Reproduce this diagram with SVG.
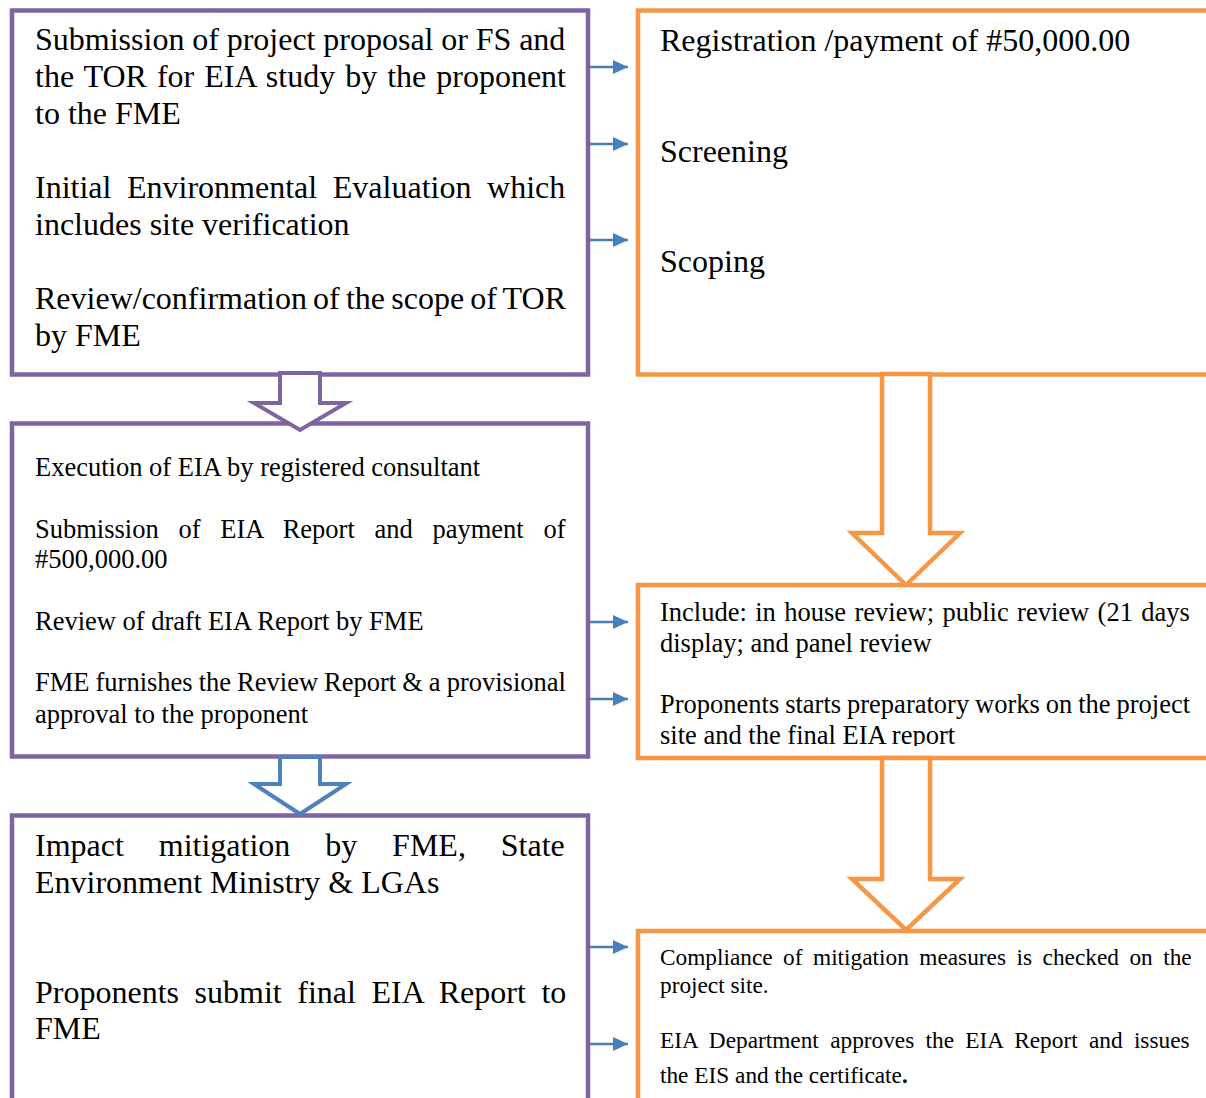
<svg xmlns="http://www.w3.org/2000/svg" width="1206" height="1098" viewBox="0 0 1206 1098">
<style>
.bp{fill:#fff;stroke:#8064A2;stroke-width:4.5}
.bo{fill:#fff;stroke:#F79646;stroke-width:4.5}
.ap{fill:#fff;stroke:#8064A2;stroke-width:4}
.ab{fill:#fff;stroke:#4F81BD;stroke-width:4}
.ao{fill:#fff;stroke:#F79646;stroke-width:4.5}
.c{stroke:#4A7EBB;stroke-width:2.5;fill:none}
text{font-family:"Liberation Serif","Times New Roman",serif;fill:#000}
.t32{font-size:32px}
.t26{font-size:26.5px}
.t23{font-size:23.3px}
</style>
<defs>
<marker id="ah" viewBox="0 0 15 14" refX="15" refY="7" markerWidth="15" markerHeight="14" markerUnits="userSpaceOnUse" orient="auto">
<path d="M0,0 L15,7 L0,14 z" fill="#4A7EBB"/>
</marker>
<clipPath id="clipR2"><rect x="640" y="588" width="566" height="158"/></clipPath>
</defs>

<g id="node-l1">
<rect class="bp" x="12" y="10.5" width="576" height="364"/>
<text class="t32" word-spacing="-0.2"><tspan x="35" y="50">Submission of project proposal or FS and</tspan></text>
<text class="t32" word-spacing="2"><tspan x="35" y="87">the TOR for EIA study by the proponent</tspan></text>
<text class="t32"><tspan x="35" y="124">to the FME</tspan></text>
<text class="t32" word-spacing="7.6"><tspan x="35" y="198">Initial Environmental Evaluation which</tspan></text>
<text class="t32"><tspan x="35" y="235">includes site verification</tspan></text>
<text class="t32" word-spacing="-1.8"><tspan x="35" y="309">Review/confirmation of the scope of TOR</tspan></text>
<text class="t32"><tspan x="35" y="346">by FME</tspan></text>
</g>

<g id="node-r1">
<rect class="bo" x="638" y="10.5" width="600" height="364"/>
<text class="t32"><tspan x="660" y="51">Registration /payment of #50,000.00</tspan></text>
<text class="t32"><tspan x="660" y="162">Screening</tspan></text>
<text class="t32"><tspan x="660" y="272">Scoping</tspan></text>
</g>

<g id="node-l2">
<rect class="bp" x="12" y="423.5" width="576" height="333"/>
<text class="t26"><tspan x="35" y="476">Execution of EIA by registered consultant</tspan></text>
<text class="t26" word-spacing="13.1"><tspan x="35" y="538">Submission of EIA Report and payment of</tspan></text>
<text class="t26"><tspan x="35" y="568">#500,000.00</tspan></text>
<text class="t26"><tspan x="35" y="630">Review of draft EIA Report by FME</tspan></text>
<text class="t26" word-spacing="-0.6"><tspan x="35" y="691">FME furnishes the Review Report &amp; a provisional</tspan></text>
<text class="t26"><tspan x="35" y="723">approval to the proponent</tspan></text>
</g>

<g id="node-r2">
<rect class="bo" x="638" y="585" width="600" height="173"/>
<g clip-path="url(#clipR2)">
<text class="t26" word-spacing="1.8"><tspan x="660" y="621">Include: in house review; public review (21 days</tspan></text>
<text class="t26"><tspan x="660" y="652">display; and panel review</tspan></text>
<text class="t26" word-spacing="-0.7"><tspan x="660" y="713">Proponents starts preparatory works on the project</tspan></text>
<text class="t26"><tspan x="660" y="744">site and the final EIA report</tspan></text>
</g>
</g>

<g id="node-l3">
<rect class="bp" x="12" y="815.5" width="576" height="300"/>
<text class="t32" word-spacing="26.9"><tspan x="35" y="856">Impact mitigation by FME, State</tspan></text>
<text class="t32"><tspan x="35" y="893">Environment Ministry &amp; LGAs</tspan></text>
<text class="t32" word-spacing="7.6"><tspan x="35" y="1003">Proponents submit final EIA Report to</tspan></text>
<text class="t32"><tspan x="35" y="1039">FME</tspan></text>
</g>

<g id="node-r3">
<rect class="bo" x="638" y="931" width="600" height="200"/>
<text class="t23" word-spacing="4.7"><tspan x="660" y="965">Compliance of mitigation measures is checked on the</tspan></text>
<text class="t23"><tspan x="660" y="993">project site.</tspan></text>
<text class="t23" word-spacing="5.5"><tspan x="660" y="1048">EIA Department approves the EIA Report and issues</tspan></text>
<text class="t23"><tspan x="660" y="1083">the EIS and the certificate<tspan font-weight="bold">.</tspan></tspan></text>
</g>

<g id="connectors">
<polygon class="ap" points="280,373 320,373 320,403 346,403 300,430 254,403 280,403"/>
<polygon class="ab" points="280,757 320,757 320,784 346,784 300,814 254,784 280,784"/>
<polygon class="ao" points="882,374 930,374 930,533 960,533 906,585 852,533 882,533"/>
<polygon class="ao" points="882,758 930,758 930,879 960,879 906,930 852,879 882,879"/>
<line class="c" x1="590" y1="67" x2="628" y2="67" marker-end="url(#ah)"/>
<line class="c" x1="590" y1="144" x2="628" y2="144" marker-end="url(#ah)"/>
<line class="c" x1="590" y1="240" x2="628" y2="240" marker-end="url(#ah)"/>
<line class="c" x1="590" y1="622" x2="628" y2="622" marker-end="url(#ah)"/>
<line class="c" x1="590" y1="699" x2="628" y2="699" marker-end="url(#ah)"/>
<line class="c" x1="590" y1="947" x2="628" y2="947" marker-end="url(#ah)"/>
<line class="c" x1="590" y1="1044" x2="628" y2="1044" marker-end="url(#ah)"/>
</g>
</svg>
